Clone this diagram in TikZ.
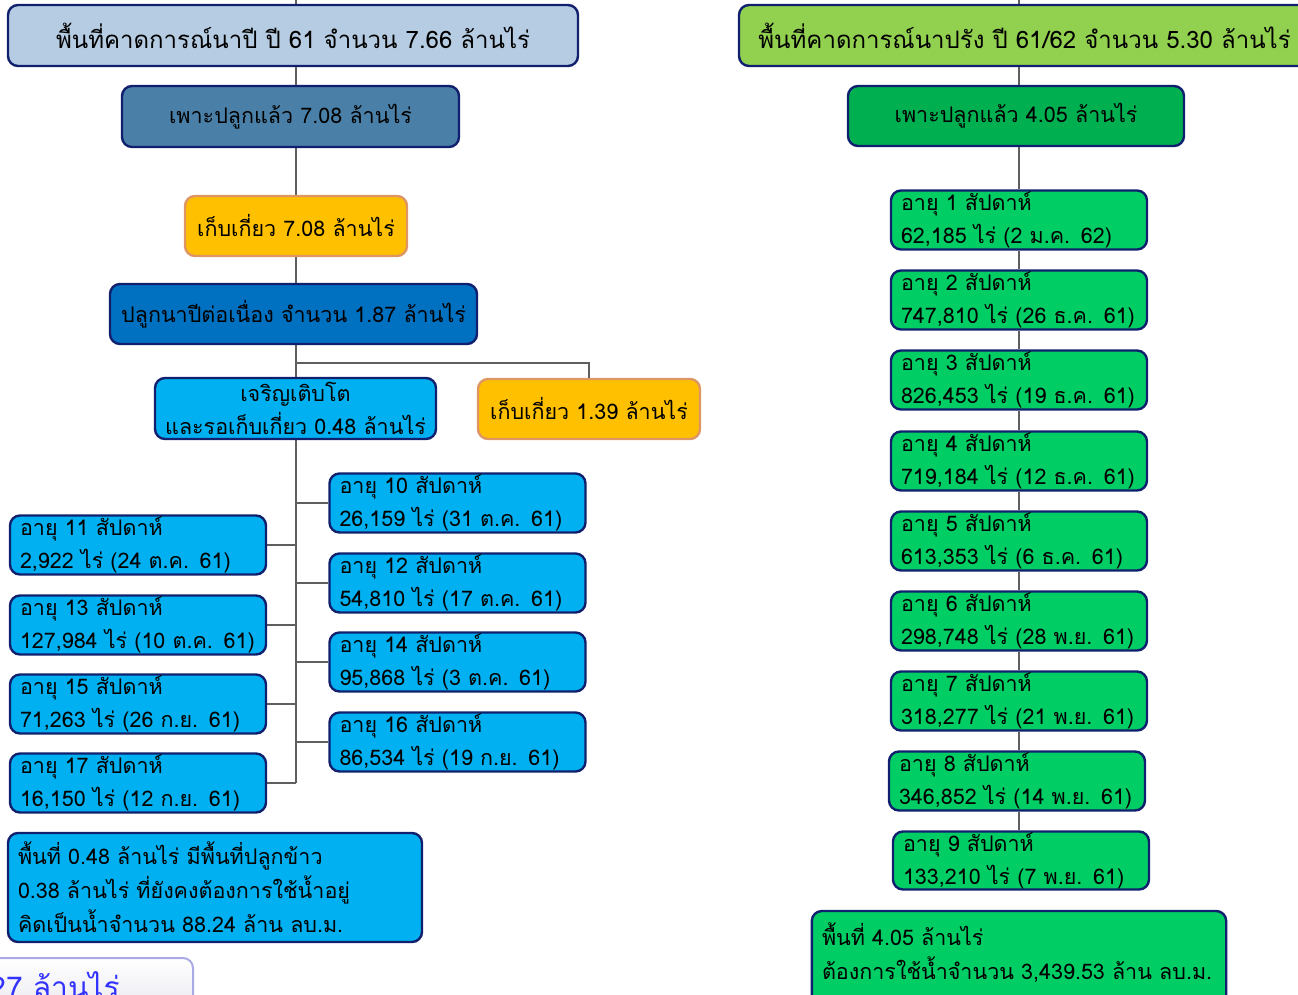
\documentclass[tikz,border=0pt]{standalone}
\usepackage{fontspec}
\setmainfont[Script=Thai]{Loma}
\definecolor{navy}{RGB}{16,32,110}
\definecolor{lnk}{RGB}{95,95,95}
\definecolor{topL}{RGB}{182,204,226}
\definecolor{sowL}{RGB}{74,128,168}
\definecolor{harv}{RGB}{255,192,0}
\definecolor{harvB}{RGB}{222,150,100}
\definecolor{contL}{RGB}{0,112,192}
\definecolor{skyB}{RGB}{0,176,240}
\definecolor{topR}{RGB}{146,208,80}
\definecolor{sowR}{RGB}{0,176,80}
\definecolor{wkR}{RGB}{0,206,100}
\definecolor{gBord}{RGB}{170,170,230}
\definecolor{gTxt}{RGB}{51,51,255}
\newcommand\boxfont{\fontsize{21.5}{33}\selectfont}
\newcommand\bigboxfont{\fontsize{24}{33}\selectfont}
\newcommand\notefont{\fontsize{21.5}{34}\selectfont}
\pgfdeclarelayer{bg}
\pgfdeclarelayer{boxes}
\pgfsetlayers{bg,boxes,main}
\begin{document}
\begin{tikzpicture}[x=1pt,y=-1pt,
  box/.style={draw=navy, line width=2.4pt, rounded corners=10pt, inner sep=0pt, font=\boxfont, align=center},
  hbox/.style={box, draw=harvB},
  wk/.style={box, minimum width=256pt, minimum height=59pt, text width=236pt, align=left},
  lnkline/.style={draw=lnk, line width=2pt}]
\useasboundingbox (0,0) rectangle (1298,995);
\begin{scope}
\clip (0,0) rectangle (1298,995);
\coordinate (tk) at (296,0);
\coordinate (tkR) at (1019,0);
\coordinate (br) at (296,363);
% ---- left nodes
\node[box, fill=topL, minimum width=570pt, minimum height=61pt, font=\bigboxfont] (A) at (293,35.5) {พื้นที่คาดการณ์นาปี ปี 61 จำนวน 7.66 ล้านไร่};
\node[box, fill=sowL, minimum width=337pt, minimum height=61pt] (B) at (290.5,116.5) {เพาะปลูกแล้ว 7.08 ล้านไร่};
\node[hbox, fill=harv, minimum width=222pt, minimum height=60pt] (C) at (296,226) {เก็บเกี่ยว 7.08 ล้านไร่};
\node[box, fill=contL, minimum width=367pt, minimum height=60pt] (D) at (293.5,314) {ปลูกนาปีต่อเนื่อง จำนวน 1.87 ล้านไร่};
\node[box, fill=skyB, minimum width=281pt, minimum height=61pt] (E) at (295.5,408.5) {เจริญเติบโต\\และรอเก็บเกี่ยว 0.48 ล้านไร่};
\node[hbox, fill=harv, minimum width=222pt, minimum height=60pt] (H2) at (589,409) {เก็บเกี่ยว 1.39 ล้านไร่};
\node[wk, fill=skyB] (w10) at (457.5,503) {อายุ 10 สัปดาห์\\26,159 ไร่ (31 ต.ค. 61)};
\node[wk, fill=skyB] (w12) at (457.5,583) {อายุ 12 สัปดาห์\\54,810 ไร่ (17 ต.ค. 61)};
\node[wk, fill=skyB] (w14) at (457.5,662) {อายุ 14 สัปดาห์\\95,868 ไร่ (3 ต.ค. 61)};
\node[wk, fill=skyB] (w16) at (457.5,742) {อายุ 16 สัปดาห์\\86,534 ไร่ (19 ก.ย. 61)};
\node[wk, fill=skyB] (w11) at (138,545) {อายุ 11 สัปดาห์\\2,922 ไร่ (24 ต.ค. 61)};
\node[wk, fill=skyB] (w13) at (138,625) {อายุ 13 สัปดาห์\\127,984 ไร่ (10 ต.ค. 61)};
\node[wk, fill=skyB] (w15) at (138,704) {อายุ 15 สัปดาห์\\71,263 ไร่ (26 ก.ย. 61)};
\node[wk, fill=skyB] (w17) at (138,783) {อายุ 17 สัปดาห์\\16,150 ไร่ (12 ก.ย. 61)};
\node[box, fill=skyB, minimum width=414pt, minimum height=109pt, text width=394pt, align=left, font=\notefont] (F) at (215,887.5) {พื้นที่ 0.48 ล้านไร่ มีพื้นที่ปลูกข้าว\\0.38 ล้านไร่ ที่ยังคงต้องการใช้น้ำอยู่\\คิดเป็นน้ำจำนวน 88.24 ล้าน ลบ.ม.};
% partial glossy box at bottom left
\shade[top color=white, bottom color={rgb,255:red,222;green,222;blue,232}, draw=gBord, line width=2pt, rounded corners=10pt] (-20,958) rectangle (193,1040);
\node[anchor=base east, text=gTxt, font=\fontsize{30}{36}\selectfont, inner sep=0pt] (G) at (120,998) {27 ล้านไร่};
% ---- right nodes
\node[box, fill=topR, minimum width=571pt, minimum height=61pt, font=\bigboxfont] (R) at (1024.5,35.5) {พื้นที่คาดการณ์นาปรัง ปี 61/62 จำนวน 5.30 ล้านไร่};
\node[box, fill=sowR, minimum width=336pt, minimum height=60pt] (S) at (1016,116) {เพาะปลูกแล้ว 4.05 ล้านไร่};
\node[wk, fill=wkR] (v1) at (1019,220) {อายุ 1 สัปดาห์\\62,185 ไร่ (2 ม.ค. 62)};
\node[wk, fill=wkR] (v2) at (1019,300) {อายุ 2 สัปดาห์\\747,810 ไร่ (26 ธ.ค. 61)};
\node[wk, fill=wkR] (v3) at (1019,380) {อายุ 3 สัปดาห์\\826,453 ไร่ (19 ธ.ค. 61)};
\node[wk, fill=wkR] (v4) at (1019,461) {อายุ 4 สัปดาห์\\719,184 ไร่ (12 ธ.ค. 61)};
\node[wk, fill=wkR] (v5) at (1019,541) {อายุ 5 สัปดาห์\\613,353 ไร่ (6 ธ.ค. 61)};
\node[wk, fill=wkR] (v6) at (1019,621) {อายุ 6 สัปดาห์\\298,748 ไร่ (28 พ.ย. 61)};
\node[wk, fill=wkR] (v7) at (1019,701) {อายุ 7 สัปดาห์\\318,277 ไร่ (21 พ.ย. 61)};
\node[wk, fill=wkR] (v8) at (1017,781) {อายุ 8 สัปดาห์\\346,852 ไร่ (14 พ.ย. 61)};
\node[wk, fill=wkR, minimum height=58pt] (v9) at (1021,860.5) {อายุ 9 สัปดาห์\\133,210 ไร่ (7 พ.ย. 61)};
% bottom-right note: text node, box drawn behind it running off the page
\node[anchor=north, minimum width=414pt, minimum height=82pt, text width=394pt, align=left, font=\notefont, inner sep=0pt] (J) at (1019,911) {พื้นที่ 4.05 ล้านไร่\\ต้องการใช้น้ำจำนวน 3,439.53 ล้าน ลบ.ม.};
\begin{pgfonlayer}{boxes}
\draw[draw=navy, fill=wkR, line width=2.4pt, rounded corners=10pt] (J.north west) rectangle ([yshift=-40pt]J.south east);
\end{pgfonlayer}
\end{scope}
% ---- connectors (behind boxes)
\begin{pgfonlayer}{bg}
\draw[lnkline] (tk) -- (A.north -| tk);
\draw[lnkline] (A.south -| tk) -- (B.north -| tk);
\draw[lnkline] (B.south -| tk) -- (C.north -| tk);
\draw[lnkline] (C.south -| tk) -- (D.north -| tk);
\draw[lnkline] (D.south -| tk) -- (br) -| (H2.north);
\draw[lnkline] (br) -- (E.north -| tk);
\draw[lnkline] (E.south -| tk) -- (w17.east -| tk);
\foreach \n in {w10,w12,w14,w16} \draw[lnkline] (\n.west) -- (\n.west -| tk);
\foreach \n in {w11,w13,w15,w17} \draw[lnkline] (\n.east) -- (\n.east -| tk);
\draw[lnkline] (tkR) -- (R.north -| tkR);
\draw[lnkline] (R.south -| tkR) -- (S.north -| tkR);
\draw[lnkline] (S.south -| tkR) -- (v1.north -| tkR);
\foreach \a/\b in {v1/v2,v2/v3,v3/v4,v4/v5,v5/v6,v6/v7,v7/v8,v8/v9}
  \draw[lnkline] (\a.south -| tkR) -- (\b.north -| tkR);
\end{pgfonlayer}
\end{tikzpicture}
\end{document}
